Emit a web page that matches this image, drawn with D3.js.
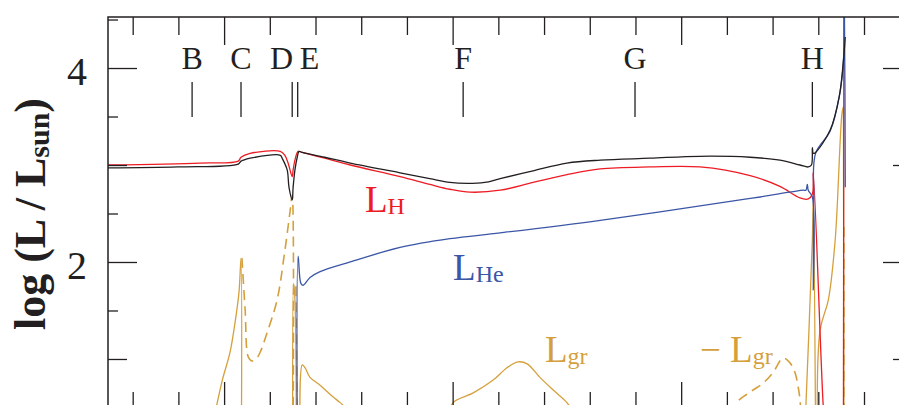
<!DOCTYPE html>
<html>
<head>
<meta charset="utf-8">
<script src="https://cdn.jsdelivr.net/npm/d3@7"></script>
<style>
  html, body { margin: 0; padding: 0; background: #fff; }
  svg { display: block; font-family: "Liberation Serif", "Times New Roman", serif; }
</style>
</head>
<body>
<svg id="chart" width="899" height="405"></svg>
<script>
// total luminosity (black)
const tL = [-2.54, -1.01, 0.31, 0.37, 0.42, 0.57, 1.23, 1.27, 1.38, 1.42, 1.49, 1.51, 1.55, 1.60, 1.64, 1.71, 2.20, 2.76, 3.85, 4.50, 4.94, 5.32, 5.70, 6.04, 6.76, 7.50, 8.23, 9.32, 10.41, 11.51, 12.16, 12.60, 12.78, 12.85, 12.87, 12.89, 12.94, 13.26, 13.46, 13.55, 13.59];
const vL = [2.97, 2.98, 3.01, 3.04, 3.05, 3.07, 3.10, 3.07, 2.95, 2.77, 2.64, 2.77, 2.95, 3.08, 3.14, 3.13, 3.08, 3.02, 2.92, 2.86, 2.82, 2.81, 2.82, 2.86, 2.94, 3.02, 3.05, 3.07, 3.09, 3.08, 3.05, 3.00, 2.98, 3.00, 3.18, 3.12, 3.13, 3.36, 3.71, 4.08, 4.32];

// hydrogen burning (red); null = gap
const tH = [-2.54, -0.53, 0.31, 0.37, 0.57, 1.23, 1.33, 1.40, 1.49, 1.51, 1.55, 1.62, 1.71, 2.20, 2.76, 3.85, 4.50, 4.94, 5.38, 6.04, 6.76, 7.50, 8.23, 9.32, 10.41, 11.51, 12.16, 12.60, 12.78, 12.87, 12.89, 13.11, 13.15, null, 13.55, 13.56];
const vH = [3.00, 3.02, 3.04, 3.08, 3.12, 3.14, 3.10, 3.02, 2.88, 2.95, 3.05, 3.14, 3.13, 3.07, 3.00, 2.88, 2.80, 2.75, 2.72, 2.74, 2.82, 2.90, 2.96, 2.98, 2.98, 2.89, 2.78, 2.66, 2.65, 2.70, 2.92, 0.50, 0.30, null, 0.30, 4.70];

// helium burning (blue)
const tHe = [1.60, 1.62, 1.68, 1.73, 1.88, 2.10, 2.76, 3.85, 4.94, 6.04, 8.23, 11.29, 11.73, 12.67, 12.73, 12.76, 12.78, 12.87, 12.89, 12.90, 12.94, 13.26, 13.46, 13.55, 13.57, 13.59];
const vHe = [0.30, 2.06, 1.78, 1.76, 1.84, 1.90, 2.00, 2.15, 2.24, 2.30, 2.43, 2.64, 2.67, 2.74, 2.74, 2.80, 2.74, 2.67, 1.71, 2.64, 3.12, 3.35, 3.71, 4.07, 4.70, 2.77];

// gravothermal, positive part (gold solid); null = gap
const tGr = [-0.26, -0.04, 0.13, 0.28, 0.33, 0.37, 0.38, null, 1.50, 1.52, 1.55, 1.58, null, 1.66, 1.71, 1.77, 1.88, 2.10, 2.38, 2.54, 2.76, null, 4.94, 5.01, 5.45, 5.88, 6.19, 6.43, 6.63, 6.91, 7.20, 7.50, 7.68, null, 12.71, 12.87, 12.89, 12.94, null, 12.98, 13.04, 13.22, 13.37, 13.52, 13.55, null, 13.55, 13.56];
const vGr = [0.30, 0.78, 1.07, 1.51, 1.71, 2.04, 0.30, null, 0.30, 1.78, 1.61, 0.30, null, 0.30, 0.94, 0.91, 0.81, 0.73, 0.61, 0.55, 0.45, null, 0.42, 0.55, 0.65, 0.78, 0.91, 0.97, 0.95, 0.81, 0.68, 0.55, 0.42, null, 0.30, 2.23, 2.64, 0.30, null, 0.30, 1.30, 1.61, 2.23, 3.54, 3.60, null, 3.60, 0.30];

// gravothermal, negative part plotted as -Lgr (gold dashed)
const tNeg = [0.39, 0.46, 0.53, 0.61, 0.70, 0.79, 0.94, 1.16, 1.33, 1.44, 1.49, 1.51, null, 1.57, 1.60, null, 11.18, 11.22, 11.51, 11.79, 12.01, 12.23, 12.38, 12.49, 12.56, 12.60, 12.62, null, 13.56, 13.56];
const vNeg = [2.04, 1.51, 1.02, 0.98, 1.00, 1.07, 1.27, 1.61, 2.12, 2.51, 2.69, 0.30, null, 1.75, 0.30, null, 0.42, 0.55, 0.66, 0.75, 0.86, 1.01, 0.96, 0.86, 0.71, 0.58, 0.42, null, 2.36, 0.30];

// evolutionary phase markers
const eventNames = ["B", "C", "D", "E", "F", "G", "H"];
const eventT = [-0.70, 0.37, 1.49, 1.61, 5.23, 8.99, 12.87];

// ticks
const xMinorTicks = d3.range(-2, 16);
const xMajorTicks = [0, 5, 10, 15];
const yMajorTicks = [2, 4];
const yMidTicks = [1, 3];
const yMinorTicks = [1.5, 2.5, 3.5, 4.5];

const colors = { L: "#231f20", H: "#ed1c24", He: "#3b56a6", gr: "#d5a03c" };

const svg = d3.select("#chart");
const pLeft = 108, pRight = 912, pTop = 17, pBottom = 410;

const x = d3.scaleLinear().domain([-2.54, 15.05]).range([pLeft, pRight]);
const y = d3.scaleLinear().domain([0.474, 4.526]).range([pBottom, pTop]);

svg.append("defs").append("clipPath").attr("id", "plot")
  .append("rect").attr("x", pLeft).attr("y", pTop)
  .attr("width", pRight - pLeft).attr("height", pBottom - pTop);

const pts = (ts, vs) => ts.map((t, i) => [t, vs[i]]);
const line = d3.line()
  .defined(d => d[0] != null && d[1] != null)
  .curve(d3.curveCatmullRom.alpha(0.5))
  .x(d => x(d[0])).y(d => y(d[1]));

const curves = svg.append("g").attr("clip-path", "url(#plot)")
  .attr("fill", "none").attr("stroke-linejoin", "round");

curves.append("path").attr("d", line(pts(tNeg, vNeg)))
  .attr("stroke", colors.gr).attr("stroke-width", 1.6).attr("stroke-dasharray", "10,6");
curves.append("path").attr("d", line(pts(tGr, vGr)))
  .attr("stroke", colors.gr).attr("stroke-width", 1.3);
curves.append("path").attr("d", line(pts(tH, vH)))
  .attr("stroke", colors.H).attr("stroke-width", 1.3);
curves.append("path").attr("d", line(pts(tHe, vHe)))
  .attr("stroke", colors.He).attr("stroke-width", 1.3);
curves.append("path").attr("d", line(pts(tL, vL)))
  .attr("stroke", colors.L).attr("stroke-width", 1.3);

// frame
svg.append("rect").attr("x", pLeft).attr("y", pTop)
  .attr("width", pRight - pLeft).attr("height", pBottom - pTop)
  .attr("fill", "none").attr("stroke", "#231f20").attr("stroke-width", 1.5);

function tickAxis(axisFn, scale, values, size, transform) {
  const g = svg.append("g").attr("transform", transform)
    .call(axisFn(scale).tickValues(values).tickSize(-size).tickFormat(""));
  g.select(".domain").remove();
  g.selectAll(".tick line").attr("stroke", "#231f20").attr("stroke-width", 1.3);
  return g;
}

const xMinorOnly = xMinorTicks.filter(t => !xMajorTicks.includes(t));
tickAxis(d3.axisTop, x, xMinorOnly, 18, `translate(0,${pTop})`);
tickAxis(d3.axisTop, x, xMajorTicks, 28, `translate(0,${pTop})`);
tickAxis(d3.axisBottom, x, xMinorOnly, 18, `translate(0,${pBottom})`);
tickAxis(d3.axisBottom, x, xMajorTicks, 28, `translate(0,${pBottom})`);

[[d3.axisLeft, pLeft], [d3.axisRight, pRight]].forEach(([fn, pos]) => {
  tickAxis(fn, y, yMajorTicks, 29, `translate(${pos},0)`);
  tickAxis(fn, y, yMidTicks, 19, `translate(${pos},0)`);
  tickAxis(fn, y, yMinorTicks, 10, `translate(${pos},0)`);
});

// y tick labels
svg.append("g").selectAll("text").data(yMajorTicks).join("text")
  .attr("x", pLeft - 21).attr("y", d => y(d)).attr("dy", "0.42em")
  .attr("text-anchor", "end").attr("font-size", 40).attr("fill", "#231f20")
  .text(d => d);

// y axis title
const yTitle = svg.append("text")
  .attr("transform", "translate(45,214) rotate(-90)")
  .attr("text-anchor", "middle").attr("font-size", 44).attr("font-weight", "bold")
  .attr("fill", "#231f20");
yTitle.append("tspan").text("log (L / L");
yTitle.append("tspan").attr("font-size", 30).attr("dy", 4).text("sun");
yTitle.append("tspan").attr("dy", -4).text(")");

// phase markers
const ev = svg.append("g");
ev.selectAll("line").data(eventT).join("line")
  .attr("x1", d => x(d)).attr("x2", d => x(d))
  .attr("y1", 82).attr("y2", 117)
  .attr("stroke", "#231f20").attr("stroke-width", 1.3);
ev.selectAll("text").data(eventNames).join("text")
  .attr("x", (d, i) => d === "D" ? x(eventT[i]) + 1 : d === "E" ? x(eventT[i]) + 2 : x(eventT[i]))
  .attr("y", 69)
  .attr("text-anchor", d => d === "D" ? "end" : d === "E" ? "start" : "middle")
  .attr("font-size", 32).attr("fill", "#231f20")
  .text(d => d);

// series labels
const labelSubs = ["H", "He", "gr", "gr"];
const labelPrefix = ["", "", "", "\u2212 "];
const labelColor = [colors.H, colors.He, colors.gr, colors.gr];
const labelT = [3.08, 5.01, 7.02, 10.41];
const labelV = [2.52, 1.81, 0.97, 0.97];

labelSubs.forEach((sub, i) => {
  const t = svg.append("text")
    .attr("x", x(labelT[i])).attr("y", y(labelV[i]))
    .attr("font-size", 37).attr("fill", labelColor[i]);
  t.append("tspan").text(labelPrefix[i] + "L");
  t.append("tspan").attr("font-size", 24).attr("dy", 2).text(sub);
});
</script>
</body>
</html>
